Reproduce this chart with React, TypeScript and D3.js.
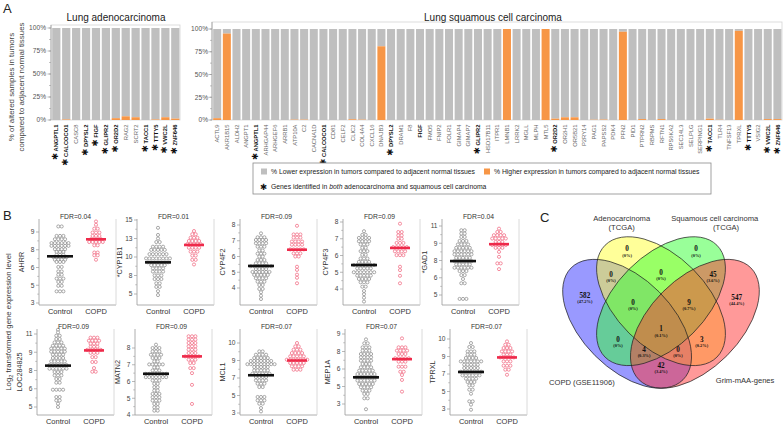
import React from "react";
import * as d3 from "d3";

const FONT = "'Liberation Sans', Arial, Helvetica, sans-serif";
const GRAY = "#BFBFBF";
const ORANGE = "#F79646";

// ---------------- Panel A data ----------------
const adenoGenes = ["ANGPTL1","CALCOCO1","CASC8","DPYSL2","FIGF","GLIPR2","OR2D2","RAG2","SCRT2","TACC1","TTTY5","VWC2L","ZNF646"];
const adenoHigher = [0, 0.6, 0, 0, 0, 0, 2, 4, 3, 0, 0.6, 3, 1.5];
const adenoStarred = ["ANGPTL1","CALCOCO1","DPYSL2","FIGF","GLIPR2","OR2D2","TACC1","TTTY5","VWC2L","ZNF646"];

const squamousGenes = ["ACTL9","AKR1B15","ALDH2","ANGPT1","ANGPTL1","ARHGAP44","ARHGEF6","ARRB1","ATP10A","C2","CACNA1D","CALCOCO1","CD81","CELF2","CLIC2","COL4A4","CXCL16","DNAJB3","DPYSL2","DRAM1","F8","FIGF","FMO5","FNIP2","FOLR1","GIMAP4","GIMAP7","GLIPR2","HSD17B11","ITPR1","LMNB1","LRRK2","MGLL","MLPH","MTL5","OR2D2","OR2H1","OR5B21","P2RY14","PAG1","PAPSS2","PDK4","PFN2","PID1","PTPRN2","RBPMS","RFTN1","RPS6KA2","SEC14L3","SELPLG","SERPING1","TACC1","TLR4","TNFSF13","TPRXL","TTTY5","VSIG2","VWC2L","ZNF646"];
const squamousHigher = [2, 95, 0, 0, 0, 0, 0, 0, 0.4, 0.4, 0, 0, 0, 0, 0.8, 0.4, 0, 81, 0, 0, 0, 0, 0, 0, 0, 0, 0, 0, 0, 0, 100, 0, 0, 0, 100, 1.5, 3, 3, 0, 0.3, 0.5, 0, 97, 0, 1, 0, 1, 0, 0, 0, 0, 1.5, 0.3, 0, 98, 0, 0, 1, 1];
const squamousStarred = ["ANGPTL1","CALCOCO1","DPYSL2","GLIPR2","OR2D2","TACC1","TTTY5","VWC2L","ZNF646"];
const squamousBold = ["ANGPTL1","CALCOCO1","DPYSL2","FIGF","GLIPR2","OR2D2","TACC1","TTTY5","VWC2L","ZNF646"];
const pctTicks = [0, 25, 50, 75, 100];

// ---------------- Panel B data ----------------
const bGenes = ["AHRR","*CYP1B1","CYP4F2","CYP4F3","*GAD1","LOC284825","MATN2","MCL1","MEP1A","TPRXL"];
const bFdr = ["0.04","0.01","0.09","0.09","0.04","0.09","0.09","0.07","0.07","0.07"];
const bTickValues = [
  [3, 4.6, 6.2, 7.8, 9.4], [5, 7.6, 10.2, 12.8, 15.4], [4, 5, 6, 7, 8], [4, 5, 6, 7, 8], [4.8, 6.3, 7.8, 9.3, 10.8],
  [4.8, 6.3, 7.8, 9.3, 10.8], [4, 5, 6, 7, 8], [2.8, 4.7, 6.6, 8.5, 10.4], [3, 4.6, 6.2, 7.8, 9.4], [2.8, 4.7, 6.6, 8.5, 10.4],
];
const bTickLabels = [
  ["3","5","6","8","9"], ["5","8","10","13","15"], ["4","5","6","7","8"], ["4","5","6","7","8"], ["5","6","8","9","11"],
  ["5","6","8","9","11"], ["4","5","6","7","8"], ["3","5","7","9","10"], ["3","5","6","8","9"], ["3","5","7","9","10"],
];
// rows: [expression value, number of samples at that level]
const ahrrControl = [[9.9,2],[9.05,3],[8.75,4],[8.4,6],[8.15,6],[7.85,4],[7.6,3],[7.35,3],[7.15,5],[6.9,4],[6.7,3],[6.25,2],[5.85,2],[5.55,2],[5.2,3],[4.9,2],[4.55,2],[4.05,3]];
const ahrrCopd = [[10.35,1],[10.05,1],[9.7,2],[9.35,3],[9.05,3],[8.75,4],[8.5,5],[8.2,2],[7.55,2],[7.3,2],[6.9,1]];
const cyp1b1Control = [[14.3,1],[13.3,1],[12.8,1],[12.3,2],[11.65,4],[11.2,5],[10.6,6],[10.0,8],[9.45,7],[9.05,5],[8.6,4],[8.15,4],[7.6,3],[7.1,3],[6.5,2],[6.0,2],[5.4,1],[4.85,1]];
const cyp1b1Copd = [[13.85,1],[13.4,2],[12.9,3],[12.45,4],[12.0,5],[11.5,4],[10.95,3],[10.4,2],[9.8,2],[9.15,1]];
const cyp4f2Control = [[7.47,1],[7.22,3],[7.05,4],[6.84,4],[6.62,3],[6.38,2],[6.18,3],[5.99,2],[5.78,3],[5.57,4],[5.38,7],[5.2,4],[5.02,6],[4.83,5],[4.62,4],[4.4,3],[4.19,2],[3.94,2],[3.73,1],[3.51,1],[3.3,1]];
const cyp4f2Copd = [[7.95,1],[7.4,3],[7.2,3],[6.95,4],[6.75,4],[6.45,5],[6.2,3],[6.0,2],[5.35,1],[5.15,1],[4.85,1],[4.65,1],[4.3,1]];
const cyp4f3Control = [[7.45,1],[7.23,2],[7.05,4],[6.85,4],[6.66,3],[6.46,2],[6.26,3],[6.04,2],[5.82,3],[5.62,4],[5.43,7],[5.23,5],[5.0,7],[4.8,5],[4.6,4],[4.4,3],[4.14,2],[3.88,1],[3.69,1],[3.48,1],[3.25,1]];
const cyp4f3Copd = [[7.9,1],[7.4,2],[7.2,2],[7.0,2],[6.75,3],[6.5,5],[6.25,4],[6.02,3],[5.33,1],[5.13,1],[4.79,1],[4.34,1]];
const gad1Control = [[10.43,2],[10.14,2],[9.85,2],[9.5,3],[9.2,4],[8.9,5],[8.61,6],[8.33,6],[8.03,5],[7.75,6],[7.46,5],[7.17,6],[6.88,3],[6.53,2],[6.19,1],[5.82,2],[4.46,3]];
const gad1Copd = [[10.57,1],[10.28,2],[10.0,4],[9.71,5],[9.42,3],[9.15,5],[8.9,3],[8.55,1],[8.12,1],[7.55,2],[7.05,1]];
const locControl = [[11.15,1],[10.93,1],[10.66,2],[10.39,2],[10.11,3],[9.84,4],[9.6,5],[9.35,5],[9.1,4],[8.83,4],[8.55,5],[8.25,6],[7.95,6],[7.67,3],[7.4,3],[7.1,2],[6.8,2],[6.22,4],[5.62,2],[5.34,2],[5.07,1],[4.8,1]];
const locCopd = [[10.5,3],[10.25,4],[10.0,3],[9.75,3],[9.5,5],[9.25,3],[8.9,2],[8.5,2],[8.0,1],[7.7,2]];
const matn2Control = [[8.2,1],[8.0,3],[7.8,3],[7.6,4],[7.4,3],[7.2,2],[7.02,5],[6.84,2],[6.66,3],[6.46,7],[6.26,7],[6.06,3],[5.86,2],[5.66,2],[5.46,2],[5.26,3],[5.06,3],[4.86,3],[4.66,2],[4.46,2],[4.26,2]];
const matn2Copd = [[8.7,3],[8.5,3],[8.3,3],[8.1,3],[7.9,3],[7.7,3],[7.5,5],[7.3,3],[7.1,2],[6.8,2],[6.5,1],[5.8,1],[4.66,1]];
const mcl1Control = [[9.49,2],[9.13,4],[8.77,5],[8.45,7],[8.1,9],[7.79,5],[7.43,5],[7.07,6],[6.71,4],[6.34,4],[5.98,3],[5.62,2],[4.54,3],[4.17,3],[3.81,2],[3.34,1],[2.97,1]];
const mcl1Copd = [[10.4,1],[10.03,2],[9.67,3],[9.31,4],[8.95,5],[8.59,7],[8.23,5],[7.87,4],[7.5,3]];
const mep1aControl = [[8.91,1],[8.55,2],[8.18,3],[7.88,3],[7.57,4],[7.27,4],[6.96,4],[6.66,3],[6.36,4],[6.05,5],[5.74,6],[5.44,7],[5.14,6],[4.83,5],[4.53,4],[4.22,3],[3.92,2],[3.52,2],[2.52,1]];
const mep1aCopd = [[9.0,1],[8.18,3],[7.88,4],[7.57,3],[7.18,5],[6.87,3],[6.41,3],[5.95,2],[5.65,1],[5.2,1],[4.13,1]];
const tprxlControl = [[9.96,1],[9.53,2],[9.05,3],[8.7,3],[8.34,4],[7.97,7],[7.61,5],[7.25,5],[6.85,7],[6.45,6],[6.09,4],[5.73,3],[5.36,2],[4.9,2],[4.46,1],[3.63,2],[3.27,1],[2.72,1]];
const tprxlCopd = [[10.14,1],[9.78,2],[9.42,3],[9.05,4],[8.7,3],[8.4,5],[7.97,3],[7.5,3],[7.07,2],[6.52,1]];
const controlMedians = [7.21, 9.45, 5.4, 5.43, 7.75, 8.2, 6.46, 6.9, 5.44, 6.82];
const copdMedians = [8.74, 11.89, 6.43, 6.45, 9.22, 9.45, 7.5, 8.5, 7.1, 8.4];
const controlGroups = [ahrrControl, cyp1b1Control, cyp4f2Control, cyp4f3Control, gad1Control, locControl, matn2Control, mcl1Control, mep1aControl, tprxlControl];
const copdGroups = [ahrrCopd, cyp1b1Copd, cyp4f2Copd, cyp4f3Copd, gad1Copd, locCopd, matn2Copd, mcl1Copd, mep1aCopd, tprxlCopd];

// ---------------- Panel C data ----------------
const vennCounts = [582, 547, 0, 0, 0, 0, 45, 0, 9, 0, 1, 3, 4, 0, 42];
const vennPercents = ["47.2%","44.4%","0%","0%","0%","0%","3.6%","0%","0.7%","0%","0.1%","0.2%","0.3%","0%","3.4%"];

// ---------------- Layout (positions only) ----------------
const bRowAxisX = [[39, 137, 240, 343, 442], [37, 135, 240, 345, 450]];
const bTickPx = [[232, 303], [220, 294], [225, 288], [222, 289], [226, 295], [334, 407], [348, 415], [343, 413], [334, 404], [339, 409]];
const bRowBox = [[219, 305], [329, 415]];
// VennDiagram-style unit-square geometry
const vennEllipses = [
  { cx: 0.35, cy: 0.47, rot: 45, fill: "#3333FF" },
  { cx: 0.5, cy: 0.57, rot: 45, fill: "#FFFF33" },
  { cx: 0.5, cy: 0.57, rot: -45, fill: "#33FF33" },
  { cx: 0.65, cy: 0.47, rot: -45, fill: "#FF3333" },
];
const vennLabelUnit = [[0.163,0.584],[0.835,0.577],[0.35,0.79],[0.655,0.79],[0.279,0.679],[0.5,0.688],[0.73,0.679],[0.376,0.555],[0.624,0.555],[0.31,0.391],[0.5,0.436],[0.68,0.391],[0.425,0.347],[0.575,0.347],[0.5,0.276]];

function BarPanel(props: any) {
  const { genes, higher, starred, bold, x0, x1, yTop, yBot, frameTop, title, titleX, tickX } = props;
  const xs = d3.scaleBand().domain(genes).range([x0 + 0.6, x1]).paddingInner(0.17).paddingOuter(0.06);
  const ys = d3.scaleLinear().domain([0, 100]).range([yBot, yTop]);
  const bw = xs.bandwidth();
  const minor = d3.range(0, 100.01, 12.5);
  return (
    <g>
      <rect x={x0} y={frameTop} width={x1 - x0} height={yBot - frameTop} fill="none" stroke="#d4d4d4" strokeWidth={0.8} />
      <line x1={x0} x2={x0} y1={frameTop} y2={yBot} stroke="#9a9a9a" strokeWidth={0.8} />
      {minor.map((t) => (
        <line key={"m" + t} x1={x0 - 2} x2={x0} y1={ys(t)} y2={ys(t)} stroke="#9a9a9a" strokeWidth={0.6} />
      ))}
      {pctTicks.map((t) => (
        <g key={t}>
          <line x1={x0 - 3.5} x2={x0} y1={ys(t)} y2={ys(t)} stroke="#9a9a9a" strokeWidth={0.7} />
          <text x={tickX} y={ys(t) + 2.3} textAnchor="end" fontSize={6.6} fill="#555">{t}%</text>
        </g>
      ))}
      {genes.map((g: string, i: number) => {
        const x = xs(g) as number;
        const h = higher[i];
        const isStar = starred.includes(g);
        const isBold = bold.includes(g);
        return (
          <g key={g}>
            <rect x={x} y={ys(100)} width={bw} height={ys(h) - ys(100)} fill={GRAY} />
            {h > 0 && <rect x={x} y={ys(h)} width={bw} height={ys(0) - ys(h)} fill={ORANGE} />}
            <text
              transform={`translate(${x + bw / 2 + 2.1},${yBot + 4.5}) rotate(-90)`}
              textAnchor="end"
              fontSize={5.8}
              fontWeight={isBold ? "bold" : "normal"}
              fill={isBold ? "#111" : "#666"}
            >
              {isStar && <tspan fontFamily="'DejaVu Sans', sans-serif" fontSize={8.5} fontWeight="bold">✱</tspan>}
              {isStar ? " " + g : g}
            </text>
          </g>
        );
      })}
      <text x={titleX} y={21} textAnchor="middle" fontSize={10} fill="#222">{title}</text>
    </g>
  );
}

function Swarm(props: any) {
  const { i } = props;
  const row = Math.floor(i / 5), col = i % 5;
  const ax = bRowAxisX[row][col];
  const [boxTop, boxBot] = bRowBox[row];
  const ticks = bTickValues[i];
  const [pxTop, pxBot] = bTickPx[i];
  const y = d3.scaleLinear().domain([ticks[0], ticks[ticks.length - 1]]).range([pxBot, pxTop]);
  const xg = d3.scalePoint().domain(["Control", "COPD"]).range([ax + 21, ax + 57]);
  const right = ax + 77;
  const step = 3.4;
  const dots = (rows: number[][], cx: number, color: string, key: string) =>
    rows.flatMap(([v, n], ri) =>
      d3.range(n).map((k) => (
        <circle key={key + ri + "-" + k} cx={cx + (k - (n - 1) / 2) * step} cy={y(v)} r={1.55} fill="#fff" stroke={color} strokeWidth={0.75} />
      ))
    );
  const cX = xg("Control") as number, pX = xg("COPD") as number;
  const midTicks = ticks.slice(1).map((t, k) => (t + ticks[k]) / 2);
  const midY = (boxTop + boxBot) / 2;
  return (
    <g>
      <line x1={ax} x2={right} y1={boxBot} y2={boxBot} stroke="#9a9a9a" strokeWidth={0.8} />
      <line x1={right} x2={right} y1={boxTop} y2={boxBot} stroke="#d0d0d0" strokeWidth={0.8} />
      <line x1={ax} x2={ax} y1={boxTop} y2={boxBot} stroke="#9a9a9a" strokeWidth={0.8} />
      {ticks.map((t, k) => (
        <g key={"t" + k}>
          <line x1={ax - 3} x2={ax} y1={y(t)} y2={y(t)} stroke="#9a9a9a" strokeWidth={0.7} />
          <text x={ax - 4.5} y={y(t) + 2.3} textAnchor="end" fontSize={6.6} fill="#444">{bTickLabels[i][k]}</text>
        </g>
      ))}
      {midTicks.map((t, k) => (
        <line key={"mt" + k} x1={ax - 1.8} x2={ax} y1={y(t)} y2={y(t)} stroke="#9a9a9a" strokeWidth={0.6} />
      ))}
      {dots(controlGroups[i], cX, "#8c8c8c", "c")}
      {dots(copdGroups[i], pX, "#F06A82", "p")}
      <line x1={cX - 13} x2={cX + 13} y1={y(controlMedians[i])} y2={y(controlMedians[i])} stroke="#111" strokeWidth={2.6} />
      <line x1={pX - 10} x2={pX + 10} y1={y(copdMedians[i])} y2={y(copdMedians[i])} stroke="#EE2A4A" strokeWidth={2.6} />
      <text x={(ax + right) / 2 - 2} y={boxTop - 0.5} textAnchor="middle" fontSize={6.8} fill="#333">FDR={bFdr[i]}</text>
      <text transform={`translate(${ax - 15},${midY}) rotate(-90)`} textAnchor="middle" fontSize={7.2} fill="#333">{bGenes[i]}</text>
      <text x={cX} y={boxBot + 9} textAnchor="middle" fontSize={7.5} fill="#333">Control</text>
      <text x={pX} y={boxBot + 9} textAnchor="middle" fontSize={7.5} fill="#333">COPD</text>
    </g>
  );
}

function Venn() {
  const S = 226, cx = 661, y0 = 430;
  const vx = d3.scaleLinear().domain([0, 1]).range([cx - S / 2, cx + S / 2]);
  const vy = d3.scaleLinear().domain([0, 1]).range([y0, y0 - S]);
  const rx = 0.35 * S, ry = 0.2 * S;
  return (
    <g>
      {vennEllipses.map((e, k) => (
        <ellipse key={"f" + k} cx={vx(e.cx)} cy={vy(e.cy)} rx={rx} ry={ry} transform={`rotate(${e.rot} ${vx(e.cx)} ${vy(e.cy)})`} fill={e.fill} fillOpacity={0.5} />
      ))}
      {vennEllipses.map((e, k) => (
        <ellipse key={"s" + k} cx={vx(e.cx)} cy={vy(e.cy)} rx={rx} ry={ry} transform={`rotate(${e.rot} ${vx(e.cx)} ${vy(e.cy)})`} fill="none" stroke="#222" strokeWidth={0.7} />
      ))}
      {vennCounts.map((c, k) => {
        const [u, v] = vennLabelUnit[k];
        return (
          <g key={"l" + k} fontFamily="'Liberation Serif', 'Times New Roman', serif" fontWeight="bold" fill="#111">
            <text x={vx(u)} y={vy(v)} textAnchor="middle" fontSize={7.2}>{c}</text>
            <text x={vx(u)} y={vy(v) + 5.2} textAnchor="middle" fontSize={4.4}>({vennPercents[k]})</text>
          </g>
        );
      })}
      <g fontSize={7.6} fill="#333">
        <text x={vx(0.326)} y={vy(0.923)} textAnchor="middle">Adenocarcinoma</text>
        <text x={vx(0.326)} y={vy(0.883)} textAnchor="middle">(TCGA)</text>
        <text x={vx(0.738)} y={vy(0.923)} textAnchor="middle">Squamous cell carcinoma</text>
        <text x={vx(0.788)} y={vy(0.883)} textAnchor="middle">(TCGA)</text>
        <text x={vx(0.15)} y={vy(0.2)} textAnchor="middle">COPD (GSE11906)</text>
        <text x={vx(0.872)} y={vy(0.206)} textAnchor="middle">Grim-mAA-genes</text>
      </g>
    </g>
  );
}

export default function App() {
  return (
    <svg width={783} height={427} viewBox="0 0 783 427" style={{ position: "fixed", left: 0, top: 0, background: "#fff" }} fontFamily={FONT}>
      <rect width={783} height={427} fill="#fff" />
      {/* Panel A */}
      <text x={3} y={13} fontSize={13} fill="#222">A</text>
      <text transform="translate(14,87) rotate(-90)" textAnchor="middle" fontSize={7.9} fill="#444">% of altered samples in tumors</text>
      <text transform="translate(23.5,87) rotate(-90)" textAnchor="middle" fontSize={7.9} fill="#444">compared to adjacent normal tissues</text>
      <BarPanel genes={adenoGenes} higher={adenoHigher} starred={adenoStarred} bold={adenoStarred}
        x0={51} x1={180} yTop={28} yBot={120} frameTop={25} title="Lung adenocarcinoma" titleX={116} tickX={46} />
      <BarPanel genes={squamousGenes} higher={squamousHigher} starred={squamousStarred} bold={squamousBold}
        x0={212} x1={782} yTop={29} yBot={120} frameTop={22} title="Lung squamous cell carcinoma" titleX={493} tickX={208} />
      {/* Legend */}
      <g>
        <rect x={253} y={163} width={458} height={31} fill="#fff" stroke="#8a8a8a" strokeWidth={0.8} />
        <rect x={261} y={168.5} width={6} height={6} fill={GRAY} />
        <text x={271} y={174} fontSize={6.8} fill="#222">% Lower expression in tumors compared to adjacent normal tissues</text>
        <rect x={484} y={168.5} width={6} height={6} fill={ORANGE} />
        <text x={494} y={174} fontSize={6.8} fill="#222">% Higher expression in tumors compared to adjacent normal tissues</text>
        <text x={260} y={190} fontSize={8.5} fontFamily="'DejaVu Sans', sans-serif" fontWeight="bold" fill="#111">✱</text>
        <text x={271} y={189} fontSize={6.8} fill="#222">Genes identified in <tspan fontStyle="italic">both</tspan> adenocarcinoma and squamous cell carcinoma</text>
      </g>
      {/* Panel B */}
      <text x={3} y={220} fontSize={13} fill="#222">B</text>
      <text transform="translate(11,322) rotate(-90)" textAnchor="middle" fontSize={7.8} fill="#333">
        Log<tspan fontSize={5.5} dy={2}>2</tspan><tspan dy={-2}> transformed gene expression level</tspan>
      </text>
      {bGenes.map((g, i) => <Swarm key={g} i={i} />)}
      {/* Panel C */}
      <text x={540} y={222} fontSize={13} fill="#222">C</text>
      <Venn />
    </svg>
  );
}
